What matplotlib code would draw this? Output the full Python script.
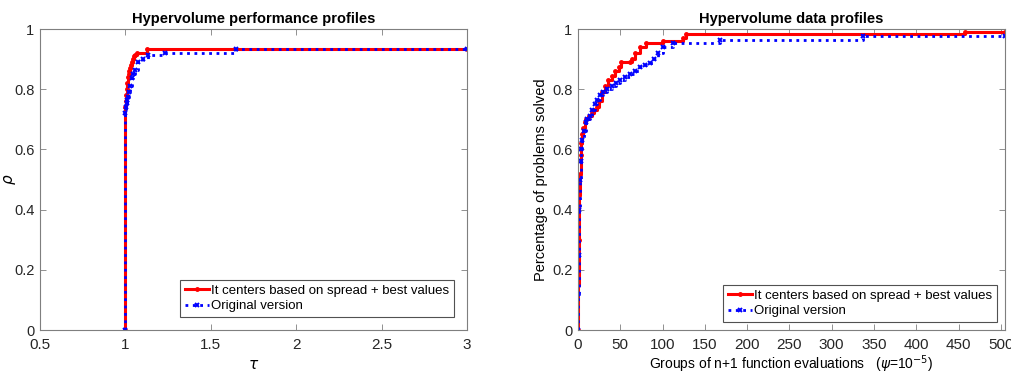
import matplotlib.pyplot as plt

# performance profile (left)
tau_red = [1.0, 1.0, 1.002, 1.004, 1.007, 1.01, 1.014, 1.018, 1.022, 1.027,
           1.032, 1.038, 1.045, 1.052, 1.056, 1.065, 1.125, 3.0]
rho_red = [0.0, 0.74, 0.76, 0.78, 0.80, 0.82, 0.84, 0.85, 0.86, 0.87,
           0.88, 0.89, 0.90, 0.91, 0.915, 0.92, 0.932, 0.932]
tau_blue = [1.0, 1.0, 1.004, 1.008, 1.012, 1.017, 1.022, 1.028, 1.037, 1.045,
            1.055, 1.076, 1.10, 1.134, 1.232, 1.65, 3.0]
rho_blue = [0.0, 0.72, 0.74, 0.755, 0.765, 0.775, 0.79, 0.81, 0.837, 0.85,
            0.865, 0.89, 0.90, 0.913, 0.922, 0.932, 0.932]

# data profile (right)
nf_red = [0, 0.5, 1, 1.5, 2, 3, 4, 5, 6, 8, 10, 13, 16, 19, 22, 25, 28, 32, 36, 40, 44, 48,
          51, 61, 64, 68, 73, 81, 100, 124, 128, 458, 505]
dp_red = [0.0, 0.15, 0.3, 0.45, 0.52, 0.58, 0.62, 0.65, 0.67, 0.69, 0.70, 0.71, 0.72, 0.73,
          0.74, 0.76, 0.79, 0.81, 0.83, 0.845, 0.86, 0.875, 0.89, 0.89, 0.90, 0.92, 0.94, 0.952,
          0.96, 0.97, 0.983, 0.991, 0.991]
nf_blue = [0, 0.5, 1, 1.5, 2, 3, 4, 5, 7, 9, 11, 14, 17, 20, 23, 26, 30, 34, 40, 45, 50, 56,
           62, 68, 73, 79, 85, 90, 95, 101, 112, 168, 337, 505]
dp_blue = [0.0, 0.12, 0.25, 0.4, 0.5, 0.56, 0.6, 0.63, 0.66, 0.69, 0.70, 0.71, 0.73, 0.75,
           0.765, 0.78, 0.79, 0.80, 0.81, 0.82, 0.83, 0.84, 0.85, 0.86, 0.875, 0.88, 0.887,
           0.90, 0.92, 0.94, 0.952, 0.963, 0.978, 0.978]

labels = ['It centers based on spread + best values', 'Original version']

plt.rcParams['font.family'] = ['Liberation Sans', 'DejaVu Sans']
fig = plt.figure(figsize=(10.11, 3.76), dpi=100)
ax1 = fig.add_axes([0.0396, 0.1223, 0.4224, 0.8005])
ax2 = fig.add_axes([0.5717, 0.1223, 0.4224, 0.8005])


def style(ax):
    for s in ax.spines.values():
        s.set_color('#7f7f7f')
        s.set_linewidth(0.8)
    ax.tick_params(direction='in', top=True, right=True, length=4, width=0.6,
                   color='#7f7f7f', labelsize=11, labelcolor='#262626', pad=6)
    ax.tick_params(axis='y', labelsize=10.5, pad=4)


def legend(ax, pad):
    leg = ax.legend(loc='lower right', fontsize=9.5, frameon=True, fancybox=False,
                    edgecolor='#262626', borderpad=0.35, handlelength=1.8,
                    handletextpad=0.2, labelspacing=0.25, borderaxespad=pad)
    leg.get_frame().set_linewidth(0.8)


ax1.step(tau_red, rho_red, where='post', color='red', lw=2.2, marker='.', ms=5,
         label=labels[0])
ax1.step(tau_blue, rho_blue, where='post', color='blue', lw=2.0, ls=':', marker='x', ms=3,
         mew=1.4, label=labels[1])
ax1.set_xlim(0.5, 3)
ax1.set_ylim(0, 1)
ax1.set_xticks([0.5, 1, 1.5, 2, 2.5, 3])
ax1.set_xticklabels(['0.5', '1', '1.5', '2', '2.5', '3'])
ax1.set_yticks([0, 0.2, 0.4, 0.6, 0.8, 1])
ax1.set_yticklabels(['0', '0.2', '0.4', '0.6', '0.8', '1'])
ax1.set_title('Hypervolume performance profiles', fontsize=10.5, fontweight='bold', pad=4)
ax1.set_xlabel(r'$\tau$', fontsize=11, labelpad=4)
ax1.set_ylabel(r'$\rho$', fontsize=11)
ax1.yaxis.set_label_coords(-0.052, 0.5)
style(ax1)
legend(ax1, 1.0)

ax2.step(nf_red, dp_red, where='post', color='red', lw=2.2, marker='.', ms=5,
         label=labels[0])
ax2.step(nf_blue, dp_blue, where='post', color='blue', lw=2.0, ls=':', marker='x', ms=3,
         mew=1.4, label=labels[1])
ax2.set_xlim(0, 505)
ax2.set_ylim(0, 1)
ax2.set_xticks(range(0, 501, 50))
ax2.set_yticks([0, 0.2, 0.4, 0.6, 0.8, 1])
ax2.set_yticklabels(['0', '0.2', '0.4', '0.6', '0.8', '1'])
ax2.set_title('Hypervolume data profiles', fontsize=10.5, fontweight='bold', pad=4)
ax2.set_xlabel(r'Groups of n+1 function evaluations   ($\psi$=10$^{-5}$)', fontsize=10,
               labelpad=1)
ax2.set_ylabel('Percentage of problems solved', fontsize=10.5, labelpad=3)
style(ax2)
legend(ax2, 0.6)

fig.savefig('out.png', dpi=100)
